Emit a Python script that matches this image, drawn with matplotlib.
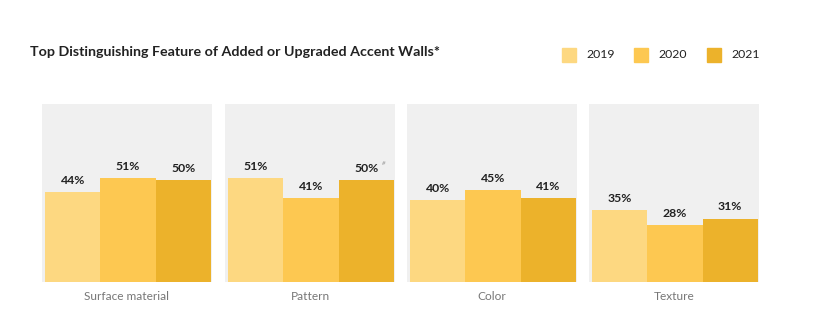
import numpy as np
import matplotlib.pyplot as plt

plt.rcParams['font.family'] = ['Lato', 'DejaVu Sans']

categories = ["Surface material", "Pattern", "Color", "Texture"]
years = ["2019", "2020", "2021"]
v2019 = [44, 51, 40, 35]
v2020 = [51, 41, 45, 28]
v2021 = [50, 50, 41, 31]
notes = [["", "", ""], ["", "", "#"], ["", "", ""], ["", "", ""]]

colors = ["#FDD881", "#FDC851", "#ECB22B"]

W, H = 815, 327
fig = plt.figure(figsize=(W / 100, H / 100), dpi=100)

panel_left = [42, 225, 407, 589]
panel_w = 170
panel_top, panel_bot = 104, 282

for i, cat in enumerate(categories):
    ax = fig.add_axes([panel_left[i] / W, (H - panel_bot) / H,
                       panel_w / W, (panel_bot - panel_top) / H])
    ax.set_facecolor("#F0F0F0")
    vals = [v2019[i], v2020[i], v2021[i]]
    x = np.arange(3)
    ax.bar(x, vals, width=1.0, color=colors, align="edge")
    for xi, v, n in zip(x, vals, notes[i]):
        ax.text(xi + 0.5, v + 3, f"{v}%", ha="center", va="bottom",
                fontsize=8.8, fontweight="bold", color="#222222")
        if n:
            ax.text(xi + 0.5 + 0.32, v + 6.5, n, ha="center", va="bottom",
                    fontsize=4.5, color="#999999", style="italic")
    ax.set_xlim(-0.055, 3.02)
    ax.set_ylim(0, 87)
    ax.set_xticks([])
    ax.set_yticks([])
    for s in ax.spines.values():
        s.set_visible(False)
    fig.text((panel_left[i] + panel_w / 2) / W, 1 - 297 / H, cat,
             ha="center", va="center", fontsize=8.6, color="#777777")

fig.text(30 / W, 1 - 52 / H, "Top Distinguishing Feature of Added or Upgraded Accent Walls*",
         ha="left", va="center", fontsize=10.3, fontweight="bold", color="#222222")

sq_x = [562, 634, 707]
for sx, y, c in zip(sq_x, years, colors):
    fig.patches.append(plt.Rectangle((sx / W, 1 - 62 / H), 14 / W, 14 / H,
                                     transform=fig.transFigure, color=c, figure=fig))
    fig.text((sx + 24) / W, 1 - 55 / H, y, ha="left", va="center",
             fontsize=8.8, color="#222222")

fig.savefig("out.png", dpi=100, facecolor="white")
